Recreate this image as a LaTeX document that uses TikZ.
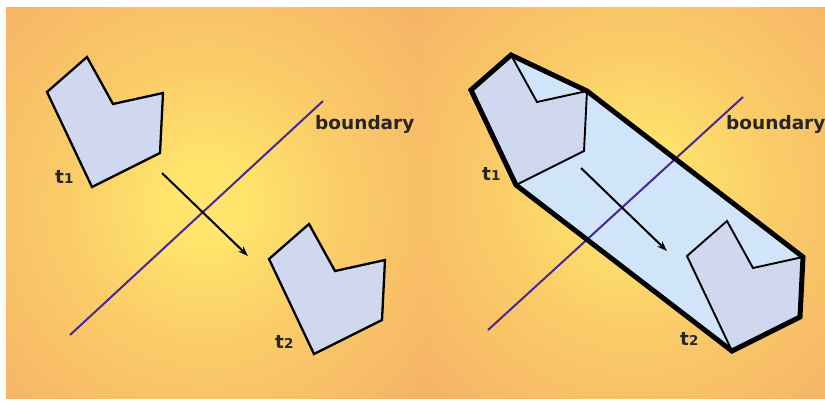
\documentclass[tikz,border=0pt]{standalone}
\usepackage{fontspec}
\setsansfont{DejaVu Sans}
\usetikzlibrary{arrows.meta, positioning}
\definecolor{glowin}{RGB}{255,229,108}
\definecolor{glowmid}{RGB}{250,203,104}
\definecolor{glowout}{RGB}{245,178,102}
\definecolor{shapeblue}{RGB}{208,216,240}
\definecolor{hullblue}{RGB}{208,228,250}
\definecolor{boundcol}{RGB}{72,40,150}
\pgfdeclareradialshading{panelglow}{\pgfpoint{0bp}{0bp}}{color(0bp)=(glowin); color(3bp)=(glowin); color(12bp)=(glowmid); color(25bp)=(glowout); color(50bp)=(glowout)}
\newcommand{\tlab}[1]{t{\fontsize{13.5}{14}\selectfont #1}}
% one shape: top, notch, upper right, lower right, bottom, left
\newcommand{\chevron}{(87,57) -- (113,104) -- (163,93) -- (160,153) -- (92,187) -- (47,92) -- cycle}

\begin{document}
\begin{tikzpicture}[x=1pt, y=-1pt,
  shapeline/.style={draw=black, line width=2.3pt, line join=miter, fill=shapeblue},
  thinline/.style={draw=black, line width=1.9pt, line join=miter, fill=shapeblue},
  hullline/.style={draw=black, line width=5pt, line join=miter},
  bound/.style={draw=boundcol, line width=2pt},
  move/.style={draw=black, line width=2pt, -{Stealth[length=10pt, width=7pt]}},
  lab/.style={font=\sffamily\bfseries\fontsize{18.5}{20}\selectfont, text=black!85, inner sep=0pt}]
  \useasboundingbox (0,0) rectangle (825,400);
  \fill[white] (0,0) rectangle (825,400);

  % backgrounds
  \begin{scope}
    \clip (6,7) rectangle (422,398);
    \fill[glowout] (6,7) rectangle (422,398);
    \shade[shading=panelglow] (205,205) circle (300);
  \end{scope}
  \begin{scope}
    \clip (422,7) rectangle (825,398);
    \fill[glowout] (422,7) rectangle (825,398);
    \shade[shading=panelglow] (635,190) circle (300);
  \end{scope}

  % left panel
  \draw[bound] (70,335) -- (323,101);
  \draw[shapeline] \chevron;
  \draw[shapeline, shift={(222,167)}] \chevron;
  \coordinate (a1) at (162,173);
  \coordinate (a2) at (248,256);
  \draw[move] (a1) -- (a2);
  \node[lab, anchor=base west] (bl) at (315,129) {boundary};
  \node[lab, anchor=base west] (l1) at (55,183) {\tlab{1}};
  \node[lab, anchor=base west] (l2) at (275,348) {\tlab{2}};

  % right panel
  \fill[hullblue] (511,55) -- (471,90) -- (516,185) -- (732,351) -- (800,317) -- (803,257) -- (587,91) -- cycle;
  \draw[bound] (488,330) -- (743,97);
  \draw[thinline, shift={(424,-2)}] \chevron;
  \draw[thinline, shift={(640,164)}] \chevron;
  \draw[hullline] (511,55) -- (471,90) -- (516,185) -- (732,351) -- (800,317) -- (803,257) -- (587,91) -- cycle;
  \coordinate (b1) at (581,168);
  \coordinate (b2) at (667,251);
  \draw[move] (b1) -- (b2);
  \node[lab, anchor=base west] (br) at (726,129) {boundary};
  \node[lab, anchor=base west] (r1) at (482,180) {\tlab{1}};
  \node[lab, anchor=base west] (r2) at (680,345) {\tlab{2}};
\end{tikzpicture}
\end{document}
